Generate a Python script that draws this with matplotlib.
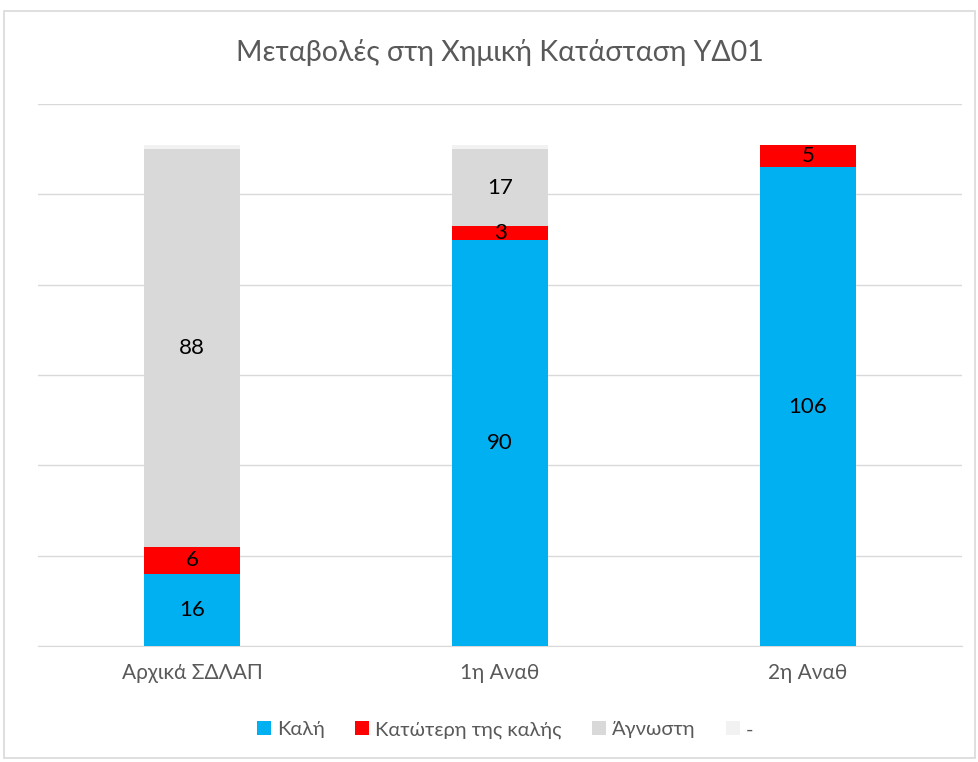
import matplotlib
matplotlib.use("Agg")
import matplotlib.pyplot as plt
from matplotlib.patches import Rectangle

plt.rcParams['font.family'] = ['Lato', 'DejaVu Sans']

categories = ["Αρχικά ΣΔΛΑΠ", "1η Αναθ", "2η Αναθ"]
series_names = ["Καλή", "Κατώτερη της καλής", "Άγνωστη", "-"]
kali = [16, 90, 106]
katoteri = [6, 3, 5]
agnosti = [88, 17, 0]
paula = [1, 1, 0]
colors = ["#00B0F0", "#FF0000", "#D9D9D9", "#F2F2F2"]

fig = plt.figure(figsize=(9.79, 7.62), dpi=100)
fig.patches.append(Rectangle((4/979, 4/762), 971/979, 747/762, transform=fig.transFigure,
                             fill=False, edgecolor="#D9D9D9", linewidth=1.2))
ax = fig.add_axes([38/979, 116/762, 924/979, 542/762])

x = range(len(categories))
bottom = [0, 0, 0]
for name, vals, col in zip(series_names, [kali, katoteri, agnosti, paula], colors):
    bars = ax.bar(x, vals, width=0.31, bottom=bottom, color=col, label=name, zorder=3)
    if name != "-":
        for i, (b, v) in enumerate(zip(bottom, vals)):
            if v > 0:
                ax.text(i, b + v / 2, str(v), ha="center", va="center",
                        fontsize=16, color="#000000", zorder=4)
    bottom = [b + v for b, v in zip(bottom, vals)]

ax.set_xlim(-0.5, 2.5)
ax.set_ylim(0, 120)
ax.set_yticks(range(0, 121, 20))
ax.yaxis.grid(True, color="#D9D9D9", linewidth=1, zorder=0)
ax.tick_params(axis="y", left=False, labelleft=False)
ax.tick_params(axis="x", length=0, pad=12, labelsize=15, labelcolor="#595959")
ax.set_xticks(list(x))
ax.set_xticklabels(categories)
for s in ["top", "right", "left"]:
    ax.spines[s].set_visible(False)
ax.spines["bottom"].set_color("#D9D9D9")

fig.text(500/979, 1 - 53/762, "Μεταβολές στη Χημική Κατάσταση ΥΔ01", ha="center", va="center",
         fontsize=20.5, color="#595959")

fig.legend(loc="center", bbox_to_anchor=(505/979, 1 - 730/762), ncol=4, frameon=False,
           fontsize=14.5, labelcolor="#595959", handlelength=0.7, handleheight=0.7,
           handletextpad=0.3, columnspacing=1.5)

fig.savefig("out.png", dpi=100)
